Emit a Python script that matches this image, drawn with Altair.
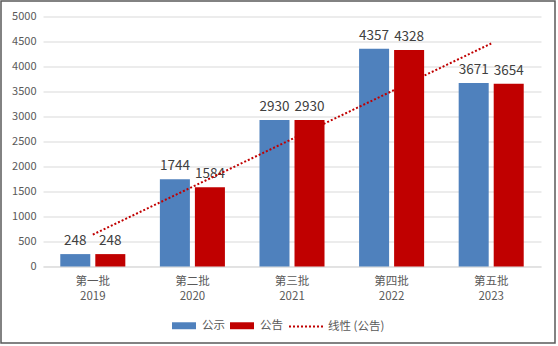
import altair as alt
import pandas as pd

categories = ["第一批|2019", "第二批|2020", "第三批|2021", "第四批|2022", "第五批|2023"]
cat_index = [1, 2, 3, 4, 5]
gongshi = [248, 1744, 2930, 4357, 3671]
gonggao = [248, 1584, 2930, 4328, 3654]
series_names = ["公示", "公告"]
trend_name = "线性 (公告)"
y_ticks = [0, 500, 1000, 1500, 2000, 2500, 3000, 3500, 4000, 4500, 5000]

rows = []
for c, i, a, b in zip(categories, cat_index, gongshi, gonggao):
    rows.append({"cat": c, "idx": i, "series": series_names[0], "value": a})
    rows.append({"cat": c, "idx": i, "series": series_names[1], "value": b})
df = pd.DataFrame(rows)
lookup_df = pd.DataFrame({"idx": cat_index, "cat": categories})

FONT = "Noto Sans CJK SC"
BLUE = "#4F81BD"
RED = "#C00000"

x_enc = alt.X(
    "cat:N",
    sort=categories,
    title=None,
    scale=alt.Scale(paddingInner=0.347, paddingOuter=0.1735),
    axis=alt.Axis(
        labelExpr="split(datum.label, '|')",
        labelAngle=0,
        labelFont=FONT,
        labelFontSize=11.5,
        labelColor="#595959",
        labelLineHeight=15,
        labelBaseline="top",
        labelPadding=9,
        ticks=False,
        domainColor="#D9D9D9",
        domainWidth=1,
        grid=False,
    ),
)
y_enc = alt.Y(
    "value:Q",
    title=None,
    scale=alt.Scale(domain=[0, 5000], nice=False),
    axis=alt.Axis(
        values=y_ticks,
        tickCount=30,
        format="d",
        labelOverlap=False,
        labelFont=FONT,
        labelFontSize=11,
        labelColor="#595959",
        labelPadding=7,
        ticks=False,
        domain=False,
        gridColor="#D9D9D9",
        gridWidth=1,
    ),
)
xoff = alt.XOffset(
    "series:N",
    sort=series_names,
    scale=alt.Scale(paddingInner=0.143, paddingOuter=0),
)

base = alt.Chart(df)

bars = base.mark_bar().encode(
    x=x_enc,
    xOffset=xoff,
    y=y_enc,
    color=alt.Color(
        "series:N",
        sort=series_names,
        scale=alt.Scale(domain=series_names, range=[BLUE, RED]),
        legend=alt.Legend(
            title=None,
            orient="none",
            legendX=129,
            legendY=297,
            direction="horizontal",
            symbolType="M-1,-0.29H1V0.29H-1Z",
            symbolSize=576,
            symbolStrokeWidth=0,
            labelOffset=6,
            columnPadding=5,
            labelFont=FONT,
            labelFontSize=11.5,
            labelColor="#595959",
        ),
    ),
)

labels = base.mark_text(
    baseline="bottom", dy=-6, font=FONT, fontSize=13.5, color="#404040"
).encode(
    x=x_enc,
    xOffset=xoff,
    y=y_enc,
    text=alt.Text("value:Q"),
)

trend = (
    base.transform_filter(alt.datum.series == series_names[1])
    .transform_regression("idx", "value", method="linear")
    .transform_lookup(lookup="idx", from_=alt.LookupData(data=lookup_df, key="idx", fields=["cat"]))
    .transform_calculate(trend=f"'{trend_name}'")
    .mark_line(color=RED, strokeWidth=2)
    .encode(
        x=x_enc,
        y=y_enc,
        strokeDash=alt.StrokeDash(
            "trend:N",
            scale=alt.Scale(domain=[trend_name], range=[[2, 2]]),
            legend=alt.Legend(
                title=None,
                orient="none",
                legendX=245,
                legendY=292,
                symbolType="stroke",
                symbolSize=1156,
                symbolStrokeColor=RED,
                symbolStrokeWidth=2,
                labelOffset=4,
                labelFont=FONT,
                labelFontSize=11.5,
                labelColor="#595959",
            ),
        ),
    )
)

frame = alt.Chart(pd.DataFrame({"a": [0]})).mark_rect(
    fill=None, stroke="#595959", strokeWidth=1.5
).encode(
    x=alt.value(-42), x2=alt.value(512), y=alt.value(-15.5), y2=alt.value(326.5)
)

chart = (
    alt.layer(bars, labels, trend, frame)
    .resolve_scale(color="independent")
    .properties(
        width=498,
        height=250,
        autosize="none",
        padding={"left": 43, "top": 16.5, "right": 17, "bottom": 79.5},
        background="white",
    )
    .configure_view(stroke=None)
)

chart.save("out.html", embed_options={"renderer": "svg", "actions": False})
